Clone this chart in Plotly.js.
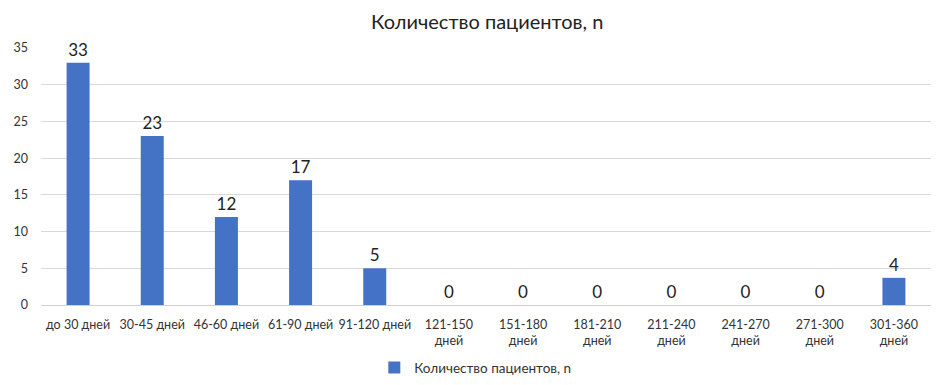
<!DOCTYPE html>
<html><head><meta charset="utf-8">
<script src="https://cdn.plot.ly/plotly-3.0.1.min.js"></script>
<style>body{margin:0;background:#fff}#c{width:946px;height:385px}</style>
</head><body><div id="c"></div>
<script>
const categories = ["до 30 дней","30-45 дней","46-60 дней","61-90 дней","91-120 дней","121-150<br>дней","151-180<br>дней","181-210<br>дней","211-240<br>дней","241-270<br>дней","271-300<br>дней","301-360<br>дней"];
const patients = [33,23,12,17,5,0,0,0,0,0,0,3.7];
const seriesName = "Количество пациентов, n";
const yTicks = [0,5,10,15,20,25,30,35];
const FONT = "Lato, 'Open Sans', sans-serif";

Plotly.newPlot("c", [{
  type: "bar",
  x: categories,
  y: patients,
  name: seriesName,
  marker: {color: "#4472C4"},
  texttemplate: "%{y:.0f}",
  textposition: "outside",
  cliponaxis: false,
  textfont: {family: FONT, size: 17, color: "#222"},
  showlegend: true
}], {
  width: 946, height: 385,
  margin: {l: 41, r: 15, t: 48, b: 80, autoexpand: false},
  paper_bgcolor: "#fff", plot_bgcolor: "#fff",
  bargap: 0.69,
  font: {family: FONT, color: "#333"},
  title: {text: seriesName, font: {family: FONT, size: 20, color: "#222"}, x: 0.515, xanchor: "center", y: 0.943, yanchor: "middle", yref: "container"},
  xaxis: {type: "category", tickfont: {size: 12.5, color: "#333"}, showgrid: false, showline: false, ticks: "", ticklabelstandoff: 10, automargin: false},
  yaxis: {range: [0, 35], tickvals: yTicks, showgrid: true, gridcolor: "#d9d9d9", gridwidth: 1, zeroline: true, zerolinecolor: "#d0d0d0", zerolinewidth: 1, tickfont: {size: 12.5, color: "#333"}, ticks: "", ticklabelstandoff: 12, automargin: false},
  showlegend: true,
  legend: {orientation: "h", x: 0.488, xanchor: "center", yref: "container", y: 0.045, yanchor: "middle", font: {size: 13.5, color: "#333"}, itemwidth: 30}
}, {displayModeBar: false, staticPlot: true});
</script></body></html>
